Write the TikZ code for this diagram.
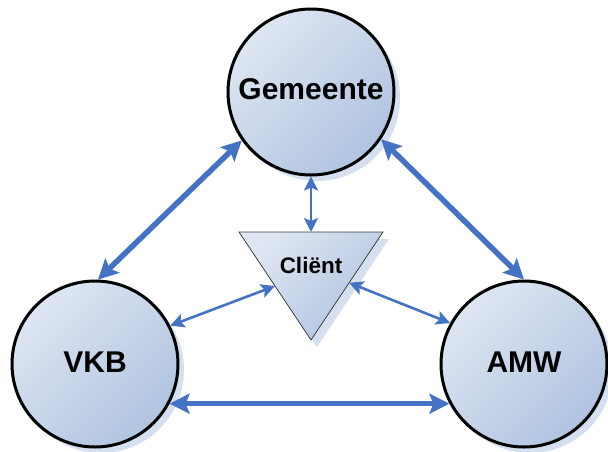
\documentclass[tikz,border=0pt]{standalone}
\usepackage{fontspec}
\setmainfont{Liberation Sans}
\usetikzlibrary{arrows.meta,shadows,calc}

\definecolor{linkblue}{RGB}{68,114,196}
\definecolor{fillhi}{RGB}{222,230,242}
\definecolor{filllo}{RGB}{176,195,224}
\definecolor{shadowblue}{RGB}{212,223,239}
\definecolor{edgegray}{RGB}{60,60,60}

\tikzset{
  party/.style={circle, draw=black, line width=3pt, minimum size=166pt, inner sep=0pt,
    top color=fillhi, bottom color=filllo, shading angle=45,
    drop shadow={shadow xshift=6pt, shadow yshift=-6pt, fill=shadowblue, opacity=1}},
  partylabel/.style={font=\fontsize{30}{36}\selectfont\bfseries},
  clientbox/.style={draw=edgegray, line width=0.8pt,
    top color=fillhi, bottom color=filllo, shading angle=45,
    drop shadow={shadow xshift=6pt, shadow yshift=-7pt, fill=shadowblue, opacity=1}},
  clientlabel/.style={font=\fontsize{22.5}{27}\selectfont\bfseries},
  biglink/.style={linkblue, line width=5.5pt, {Stealth[length=20pt,width=20pt,inset=4pt]}-{Stealth[length=20pt,width=20pt,inset=4pt]}},
  smalllink/.style={linkblue, line width=2.6pt, {Stealth[length=14pt,width=14pt,inset=3pt]}-{Stealth[length=14pt,width=14pt,inset=3pt]}}
}

\begin{document}
\begin{tikzpicture}[x=1pt,y=-1pt]
  \useasboundingbox (0,0) rectangle (608,451);

  % the three parties
  \node[party] (gem) at (311,92) {};
  \node[party] (vkb) at (95,364) {};
  \node[party] (amw) at (524,364) {};
  \node[partylabel] (gemt) at (311,89.5) {Gemeente};
  \node[partylabel] (vkbt) at (95,362.5) {VKB};
  \node[partylabel] (amwt) at (524,362.5) {AMW};

  % the client triangle
  \coordinate (tl) at (239,232);
  \coordinate (tr) at (383,232);
  \coordinate (tb) at (311,340);
  \path[clientbox] (tl) -- (tr) -- (tb) -- cycle;
  \node[clientlabel] (cl) at (311,265) {Cliënt};

  % attachment points on the triangle edges
  \coordinate (cltop) at ($(tl)!0.5!(tr)$);
  \coordinate (clleft) at ($(tl)!0.5!(tb)$);
  \coordinate (clright) at ($(tr)!0.47!(tb)$);

  % links between the parties
  \draw[biglink] (gem.215) -- (vkb.88);
  \draw[biglink] (gem.-34) -- (amw.90);
  \draw[biglink] (vkb.-28) -- (amw.208);

  % links to the client
  \draw[smalllink] (gem.270) -- (cltop);
  \draw[smalllink] (vkb.27) -- (clleft);
  \draw[smalllink] (amw.151) -- (clright);
\end{tikzpicture}
\end{document}
